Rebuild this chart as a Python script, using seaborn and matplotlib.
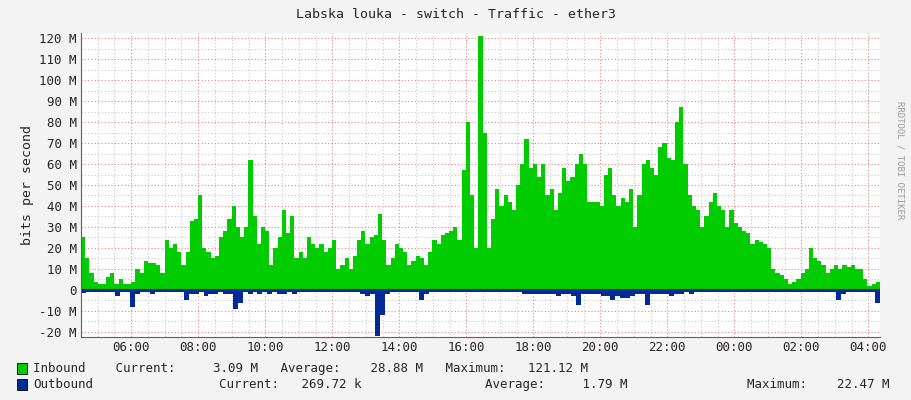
import numpy as np
import seaborn as sns
import matplotlib
matplotlib.use("Agg")
import matplotlib.pyplot as plt
from matplotlib.ticker import MultipleLocator, FuncFormatter

# hours since midnight, samples every ~10 min from 04:30 to 04:21 next day
t_start, t_end = 4.5, 28.35

inbound = [25, 15, 8, 4, 3, 3, 6, 8, 3, 5, 3, 3, 4, 10, 8, 14, 13, 13, 12, 8,
           24, 20, 22, 18, 12, 18, 33, 34, 45, 20, 18, 15, 16, 25, 28, 34, 40, 30, 25, 30,
           62, 35, 22, 30, 28, 12, 20, 25, 38, 27, 35, 15, 18, 15, 25, 22, 20, 22, 18, 20,
           24, 10, 12, 15, 10, 16, 24, 28, 22, 25, 26, 36, 24, 12, 15, 22, 20, 18, 12, 14,
           16, 15, 12, 18, 24, 22, 26, 27, 28, 30, 24, 57, 80, 45, 20, 121,
           75, 20, 34, 48, 40, 45, 42, 38, 50, 60, 72, 58, 60, 54, 60, 45, 48, 38, 46, 58,
           52, 54, 60, 65, 60, 42, 42, 42, 40, 55, 58, 45, 40, 44, 42, 48, 30, 45, 60, 62,
           58, 55, 68, 70, 63, 62, 80, 87, 60, 45, 40, 38, 30, 35, 42, 46, 40, 38, 30, 38,
           32, 30, 28, 27, 22, 24, 23, 22, 20, 10, 8, 7, 5, 3, 4, 5, 8, 10, 20, 15,
           14, 12, 8, 10, 12, 10, 12, 11, 12, 10, 10, 5, 2, 3, 4, 3]

outbound = [-1.5, -1, -1, -1, -1, -1, -1, -3, -1, -1, -8, -2, -1, -1, -2, -1, -1, -1, -1, -1,
            -1, -5, -2, -2, -1, -3, -2, -2, -1, -2, -2, -9, -6, -1, -2, -1, -2, -1, -2, -1,
            -2, -2, -1, -2, -1, -1, -1, -1, -1, -1, -1, -1, -1, -1, -1, -1, -1, -2, -3, -2,
            -22, -12, -2, -1, -1, -1, -1, -1, -1, -5, -2, -1, -1, -1, -1, -1, -1, -1, -1, -1,
            -1, -1, -1, -1, -1, -1, -1, -1, -1, -1, -2, -2, -2, -2,
            -2, -2, -2, -3, -2, -2, -3, -7, -2, -2, -2, -2, -3, -3, -5, -3, -4, -4, -3, -2,
            -2, -7, -2, -2, -2, -2, -3, -2, -2, -1, -2, -1, -1, -1, -1, -1, -1, -1, -1, -1,
            -1, -1, -1, -1, -1, -1, -1, -1, -1, -1, -1, -1, -1, -1, -1, -1, -1, -1, -1, -1,
            -5, -2, -1, -1, -1, -1, -1, -1, -6, -1]

sns.set_style("white")
plt.rcParams['font.family'] = ['DejaVu Sans Mono', 'DejaVu Sans']

fig = plt.figure(figsize=(9.11, 4.0), dpi=100, facecolor='#F3F3F3')
ax = fig.add_axes([0.0889, 0.1575, 0.8771, 0.76])

ti = np.linspace(t_start, t_end, len(inbound))
to = np.linspace(t_start, t_end, len(outbound))
ax.fill_between(ti, 0, inbound, step='post', color='#00CC00', lw=0)
ax.fill_between(to, 0, outbound, step='post', color='#002A97', lw=0)
sns.lineplot(x=[t_start, t_end], y=[0, 0], ax=ax, color='#002A97', lw=1.5)

ax.set_xlim(t_start, t_end)
ax.set_ylim(-22.4, 122.4)
ax.xaxis.set_major_locator(MultipleLocator(2))
ax.xaxis.set_minor_locator(MultipleLocator(0.5))
ax.yaxis.set_major_locator(MultipleLocator(10))
ax.yaxis.set_minor_locator(MultipleLocator(5))
ax.xaxis.set_major_formatter(FuncFormatter(lambda v, p: "%02d:00" % (int(round(v)) % 24)))
ax.yaxis.set_major_formatter(FuncFormatter(lambda v, p: "0" if abs(v) < 1e-6 else "%d M" % v))
ax.grid(which='minor', color='#C8C8C8', ls=(0, (1, 2)), lw=0.8)
ax.grid(which='major', color='#F08080', ls=(0, (1, 2)), lw=0.8)
ax.set_axisbelow(True)
ax.tick_params(which='both', length=0, labelsize=9, pad=3)
for s in ['top', 'right']:
    ax.spines[s].set_visible(False)
for s in ['left', 'bottom']:
    ax.spines[s].set_color('#606060')
ax.set_ylabel("bits per second", fontsize=9.5)

fig.text(0.5, 0.965, "Labska louka - switch - Traffic - ether3", ha='center', va='center', fontsize=9.5)
fig.text(0.988, 0.6, "RRDTOOL / TOBI OETIKER", rotation=270, ha='center', va='center',
         fontsize=6.5, color='#999999')

fig.patches.append(plt.Rectangle((0.019, 0.065), 0.011, 0.028, transform=fig.transFigure,
                                 facecolor='#00CC00', edgecolor='black', lw=0.6))
fig.patches.append(plt.Rectangle((0.019, 0.025), 0.011, 0.028, transform=fig.transFigure,
                                 facecolor='#002A97', edgecolor='black', lw=0.6))
fig.text(0.036, 0.079, "Inbound    Current:     3.09 M   Average:    28.88 M   Maximum:   121.12 M",
         va='center', fontsize=9)
fig.text(0.036, 0.039, "Outbound", va='center', fontsize=9)
fig.text(0.24, 0.039, "Current:   269.72 k", va='center', fontsize=9)
fig.text(0.532, 0.039, "Average:     1.79 M", va='center', fontsize=9)
fig.text(0.82, 0.039, "Maximum:    22.47 M", va='center', fontsize=9)

fig.savefig("out.png", dpi=100, facecolor=fig.get_facecolor())
